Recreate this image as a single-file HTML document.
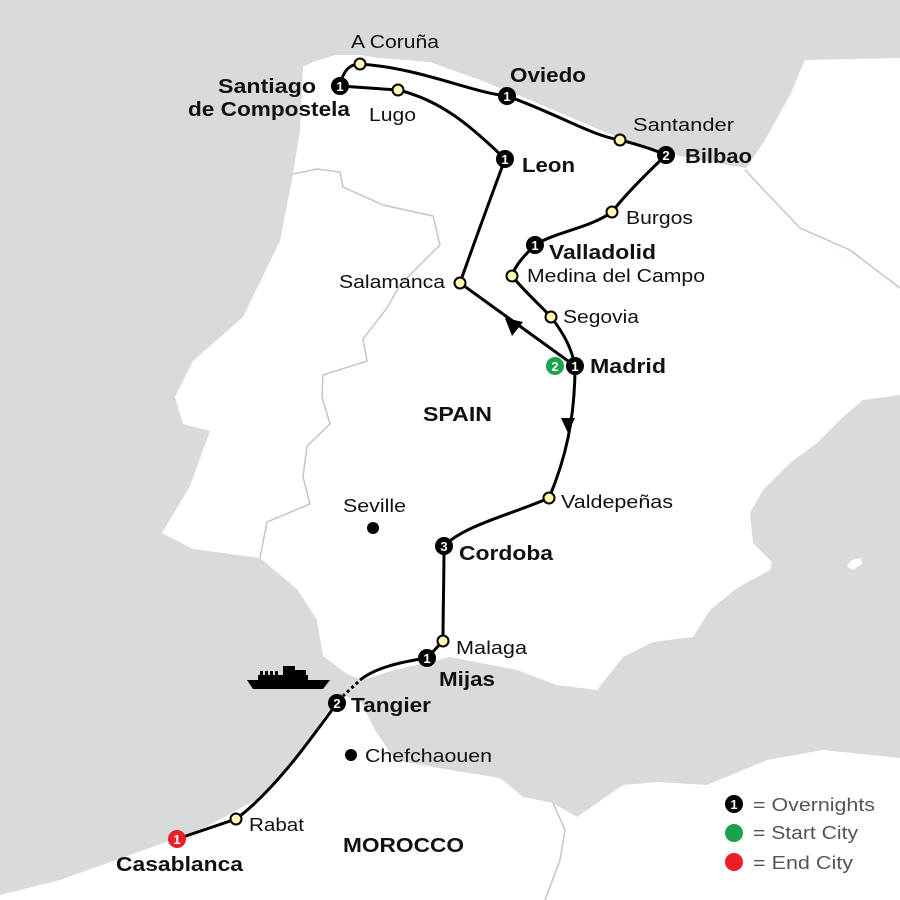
<!DOCTYPE html>
<html><head><meta charset="utf-8"><style>
html,body{margin:0;padding:0;background:#d9dadc}
svg{display:block}
text{font-family:"Liberation Sans",sans-serif;fill:#111}
.b{font-weight:bold;font-size:20px}
.r{font-size:18px}
.n{font-weight:bold;font-size:13px;fill:#fff;text-anchor:middle}
</style></head><body>
<svg width="900" height="900" viewBox="0 0 900 900" xmlns="http://www.w3.org/2000/svg">
<rect width="900" height="900" fill="#d9dadc"/>
<path d="M805,60 L900,58 L900,290 L800,230 L745,170 L765,140 L790,95 Z" fill="#fff"/>
<path d="M300,130 L303,67 L313,62 L335,55 L360,55 L380,58 L430,62 L480,80 L530,100 L600,130 L650,150 L700,160 L745,168 L800,230 L900,290 L900,395 L863,400 L843,417 L817,443 L790,463 L763,490 L750,513 L753,543 L772,562 L770,570 L737,588 L710,610 L693,637 L653,642 L623,657 L597,690 L557,685 L517,670 L450,657 L395,670 L362,680 L347,674 L323,656 L317,620 L297,589 L260,558 L193,549 L162,533 L190,486 L210,431 L183,424 L175,397 L193,361 L243,317 L280,241 L293,174 Z" fill="#fff"/>
<path d="M847,566 L852,560 L861,558 L862,564 L853,570 Z" fill="#fff"/>
<path d="M0,900 L0,895 L60,880 L130,855 L200,830 L265,795 L300,755 L325,715 L340,695 L360,700 L375,730 L395,760 L450,770 L500,778 L523,797 L553,803 L577,817 L623,785 L657,782 L707,785 L767,760 L823,750 L900,758 L900,900 Z" fill="#fff"/>
<g fill="none" stroke="#c4c5c7" stroke-width="1.5">
<path d="M293,174 L317,169 L340,172 L343,187 L383,205 L433,216 L440,245 L400,285 L387,308 L363,339 L367,361 L323,375 L322,397 L330,424 L307,446 L303,477 L310,504 L267,522 L260,558"/>
<path d="M745,170 L800,228 L850,250 L900,288"/>
<path d="M553,803 L565,830 L560,860 L545,900"/>
</g>
<g fill="none" stroke="#000" stroke-width="3">
<path d="M340,86 C343,70 350,64 360,64 C420,68 470,92 507,96 C560,115 590,135 620,140 C640,145 655,150 666,155 C645,175 625,195 612,212 C590,228 555,232 535,245 C525,255 515,265 512,276 C525,292 540,305 551,317 C565,335 572,350 575,366 L460,283 C475,240 490,200 505,159 C470,125 440,100 398,90 L340,86"/>
<path d="M575,366 C575,420 565,460 549,498 C510,515 465,525 444,546 C444,580 443,610 443,641 L427,658 C400,662 375,668 360,680"/>
<path d="M337,703 C310,740 275,790 236,819 L177,839"/>
</g>
<path d="M358,682 L343,696" stroke="#000" stroke-width="3" stroke-dasharray="3,3"/>
<polygon points="505,318 523,322 512,336" fill="#000"/>
<polygon points="561,418 575,418 568,433" fill="#000"/>
<g fill="#000">
<path d="M247,680 L330,680 L323,689 L253,689 Z"/>
<rect x="258" y="675" width="50" height="5"/>
<rect x="283" y="666" width="12" height="9"/>
<rect x="292" y="670" width="14" height="5"/>
<rect x="260" y="671" width="3" height="4"/><rect x="265" y="671" width="3" height="4"/><rect x="270" y="671" width="3" height="4"/><rect x="275" y="671" width="3" height="4"/>
</g>
<g fill="#fff7b0" stroke="#000" stroke-width="2">
<circle cx="360" cy="64" r="5.5"/><circle cx="398" cy="90" r="5.5"/><circle cx="620" cy="140" r="5.5"/>
<circle cx="612" cy="212" r="5.5"/><circle cx="512" cy="276" r="5.5"/><circle cx="551" cy="317" r="5.5"/>
<circle cx="460" cy="283" r="5.5"/><circle cx="549" cy="498" r="5.5"/><circle cx="443" cy="641" r="5.5"/>
<circle cx="236" cy="819" r="5.5"/>
</g>
<g>
<circle cx="340" cy="86" r="9" fill="#000"/><text class="n" x="340" y="91">1</text>
<circle cx="507" cy="96" r="9" fill="#000"/><text class="n" x="507" y="101">1</text>
<circle cx="666" cy="155" r="9" fill="#000"/><text class="n" x="666" y="160">2</text>
<circle cx="505" cy="159" r="9" fill="#000"/><text class="n" x="505" y="164">1</text>
<circle cx="535" cy="245" r="9" fill="#000"/><text class="n" x="535" y="250">1</text>
<circle cx="555" cy="366" r="9" fill="#1aa34a"/><text class="n" x="555" y="371">2</text>
<circle cx="575" cy="366" r="9" fill="#000"/><text class="n" x="575" y="371">1</text>
<circle cx="444" cy="546" r="9" fill="#000"/><text class="n" x="444" y="551">3</text>
<circle cx="427" cy="658" r="9" fill="#000"/><text class="n" x="427" y="663">1</text>
<circle cx="337" cy="703" r="9" fill="#000"/><text class="n" x="337" y="708">2</text>
<circle cx="177" cy="839" r="9" fill="#e8202a"/><text class="n" x="177" y="844">1</text>
<circle cx="373" cy="528" r="6" fill="#000"/>
<circle cx="351" cy="755" r="6" fill="#000"/>
</g>
<g>
<text class="r" x="351" y="48" textLength="88" lengthAdjust="spacingAndGlyphs">A Coruña</text>
<text class="b" x="218" y="93" textLength="98" lengthAdjust="spacingAndGlyphs">Santiago</text>
<text class="b" x="188" y="116" textLength="162" lengthAdjust="spacingAndGlyphs">de Compostela</text>
<text class="r" x="369" y="121" textLength="47" lengthAdjust="spacingAndGlyphs">Lugo</text>
<text class="b" x="510" y="82" textLength="76" lengthAdjust="spacingAndGlyphs">Oviedo</text>
<text class="r" x="633" y="131" textLength="101" lengthAdjust="spacingAndGlyphs">Santander</text>
<text class="b" x="685" y="163" textLength="67" lengthAdjust="spacingAndGlyphs">Bilbao</text>
<text class="b" x="522" y="172" textLength="53" lengthAdjust="spacingAndGlyphs">Leon</text>
<text class="r" x="626" y="224" textLength="67" lengthAdjust="spacingAndGlyphs">Burgos</text>
<text class="b" x="549" y="259" textLength="107" lengthAdjust="spacingAndGlyphs">Valladolid</text>
<text class="r" x="527" y="282" textLength="178" lengthAdjust="spacingAndGlyphs">Medina del Campo</text>
<text class="r" x="339" y="288" textLength="106" lengthAdjust="spacingAndGlyphs">Salamanca</text>
<text class="r" x="563" y="323" textLength="76" lengthAdjust="spacingAndGlyphs">Segovia</text>
<text class="b" x="590" y="373" textLength="76" lengthAdjust="spacingAndGlyphs">Madrid</text>
<text class="b" x="423" y="421" textLength="69" lengthAdjust="spacingAndGlyphs">SPAIN</text>
<text class="r" x="561" y="508" textLength="112" lengthAdjust="spacingAndGlyphs">Valdepeñas</text>
<text class="r" x="343" y="512" textLength="63" lengthAdjust="spacingAndGlyphs">Seville</text>
<text class="b" x="459" y="560" textLength="94" lengthAdjust="spacingAndGlyphs">Cordoba</text>
<text class="r" x="456" y="654" textLength="71" lengthAdjust="spacingAndGlyphs">Malaga</text>
<text class="b" x="439" y="686" textLength="56" lengthAdjust="spacingAndGlyphs">Mijas</text>
<text class="b" x="351" y="712" textLength="80" lengthAdjust="spacingAndGlyphs">Tangier</text>
<text class="r" x="365" y="762" textLength="127" lengthAdjust="spacingAndGlyphs">Chefchaouen</text>
<text class="r" x="249" y="831" textLength="55" lengthAdjust="spacingAndGlyphs">Rabat</text>
<text class="b" x="343" y="852" textLength="121" lengthAdjust="spacingAndGlyphs">MOROCCO</text>
<text class="b" x="116" y="871" textLength="127" lengthAdjust="spacingAndGlyphs">Casablanca</text>
</g>
<circle cx="734" cy="804" r="9" fill="#000"/><text class="n" x="734" y="809">1</text>
<circle cx="734" cy="833" r="9" fill="#1aa34a"/>
<circle cx="734" cy="862" r="9" fill="#e8202a"/>
<text class="r" x="753" y="811" style="fill:#555" textLength="122" lengthAdjust="spacingAndGlyphs">=  Overnights</text>
<text class="r" x="753" y="839" style="fill:#555" textLength="105" lengthAdjust="spacingAndGlyphs">=  Start City</text>
<text class="r" x="753" y="869" style="fill:#555" textLength="100" lengthAdjust="spacingAndGlyphs">=  End City</text>
</svg>
</body></html>
